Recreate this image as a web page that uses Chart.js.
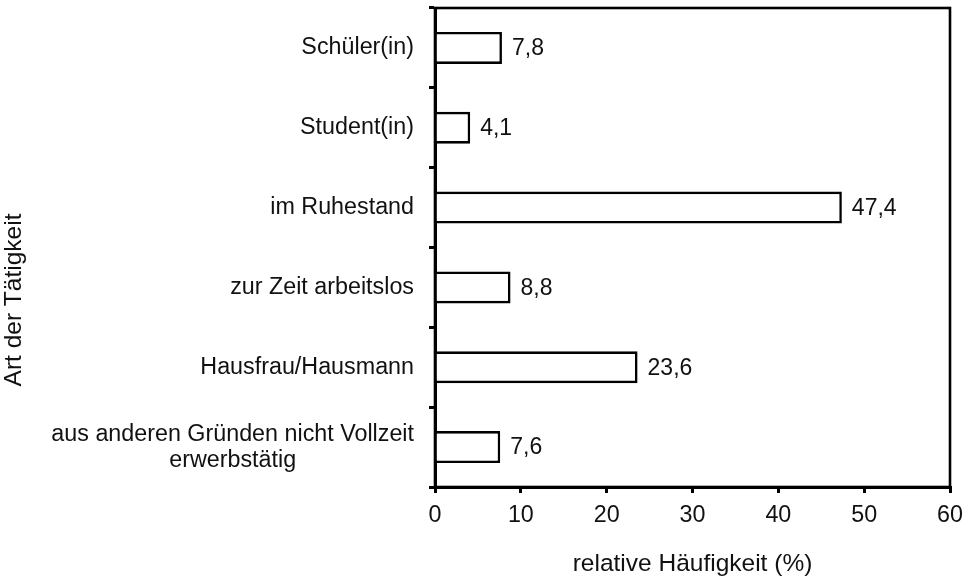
<!DOCTYPE html>
<html>
<head>
<meta charset="utf-8">
<script src="https://cdn.jsdelivr.net/npm/chart.js@4.4.1/dist/chart.umd.min.js"></script>
<style>
  html, body { margin: 0; padding: 0; background: #fff; }
  #wrap { width: 972px; height: 579px; }
</style>
</head>
<body>
<div id="wrap"><canvas id="chart_out" width="972" height="579"></canvas></div>
<script>
// Art der Tätigkeit -> relative Häufigkeit (%)
const categories = [
  ['Schüler(in)'],
  ['Student(in)'],
  ['im Ruhestand'],
  ['zur Zeit arbeitslos'],
  ['Hausfrau/Hausmann'],
  ['aus anderen Gründen nicht Vollzeit', 'erwerbstätig']
];
const values = [7.8, 4.1, 47.4, 8.8, 23.6, 7.6];
const xTicks = [0, 10, 20, 30, 40, 50, 60];
const xTitle = 'relative Häufigkeit (%)';
const yTitle = 'Art der Tätigkeit';

const FONT = '"Liberation Sans", Arial, sans-serif';
const INK = '#111';

const _f_num = function (v) {
  return v.toFixed(1).replace('.', ',');
};

// frame, category labels, value labels, y title
const paintExtras = {
  id: 'paintExtras',
  afterDatasetsDraw(chart) {
    const ctx = chart.ctx;
    const area = chart.chartArea;
    const yScale = chart.scales.y;
    ctx.save();

    ctx.strokeStyle = '#000';
    ctx.lineWidth = 2.6;
    ctx.strokeRect(area.left, area.top, area.right - area.left, area.bottom - area.top);

    ctx.fillStyle = INK;
    ctx.font = `23.3px ${FONT}`;
    ctx.textBaseline = 'middle';

    // category labels, lines centred on each other, block right aligned
    const lineH = 26;
    const rightEdge = area.left - 21;
    categories.forEach((lines, i) => {
      let maxW = 0;
      lines.forEach(l => { maxW = Math.max(maxW, ctx.measureText(l).width); });
      const cx = rightEdge - maxW / 2;
      const cy = yScale.getPixelForValue(i);
      ctx.textAlign = 'center';
      lines.forEach((l, k) => {
        ctx.fillText(l, cx, cy + (k - (lines.length - 1) / 2) * lineH);
      });
    });

    // value labels
    ctx.textAlign = 'left';
    ctx.font = `23px ${FONT}`;
    chart.getDatasetMeta(0).data.forEach((bar, i) => {
      ctx.fillText(_f_num(values[i]), bar.x + 10, bar.y + 1);
    });

    // y axis title
    ctx.font = `24.5px ${FONT}`;
    ctx.translate(14, 300);
    ctx.rotate(-Math.PI / 2);
    ctx.textAlign = 'center';
    ctx.fillText(yTitle, 0, 0);
    ctx.restore();
  }
};

let ctx = document.getElementById('chart_out').getContext('2d');
let chartjs = new Chart(ctx, {
  type: 'bar',
  data: {
    labels: categories,
    datasets: [{
      data: values,
      backgroundColor: '#fff',
      borderColor: '#000',
      borderWidth: 2.6,
      categoryPercentage: 0.4,
      barPercentage: 1
    }]
  },
  plugins: [paintExtras],
  options: {
    indexAxis: 'y',
    responsive: false,
    animation: false,
    devicePixelRatio: 1,
    layout: { padding: { top: 8, right: 22, left: 0, bottom: 0 } },
    scales: {
      y: {
        type: 'category',
        border: { display: true, color: '#000', width: 3 },
        grid: {
          offset: true,
          drawOnChartArea: false,
          drawTicks: true,
          tickLength: 6,
          color: '#000',
          lineWidth: 3
        },
        ticks: { display: false },
        afterFit: function (s) { s.width = 435; }
      },
      x: {
        min: 0,
        max: 60,
        border: { display: true, color: '#000', width: 3 },
        grid: {
          drawOnChartArea: false,
          drawTicks: true,
          tickLength: 6,
          color: '#000',
          lineWidth: 3
        },
        afterBuildTicks: function (s) {
          s.ticks = xTicks.map(v => ({ value: v }));
        },
        ticks: {
          color: INK,
          padding: 9,
          maxRotation: 0,
          font: { size: 23.3, family: FONT }
        },
        title: {
          display: true,
          text: xTitle,
          color: INK,
          padding: { top: 0, bottom: 0 },
          font: { size: 24.5, family: FONT }
        },
        afterFit: function (s) { s.height = 92; }
      }
    },
    plugins: {
      legend: { display: false },
      tooltip: { enabled: false },
      title: { display: false }
    }
  }
});
</script>
</body>
</html>
